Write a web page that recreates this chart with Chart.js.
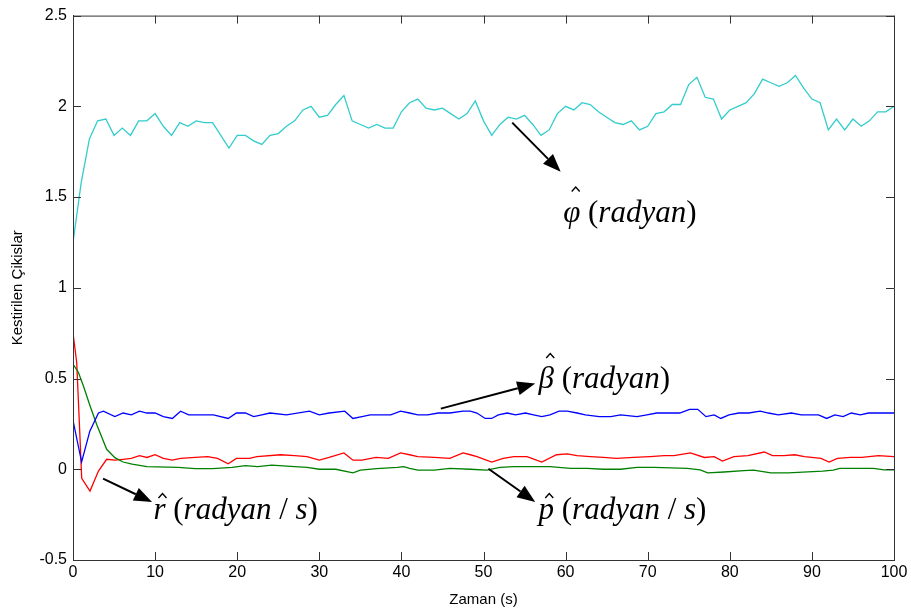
<!DOCTYPE html>
<html>
<head>
<style>
  body { margin: 0; background: #fff; }
  #wrap { width: 911px; height: 609px; }
</style>
</head>
<body>
<script src="https://cdn.jsdelivr.net/npm/chart.js"></script>
<div id="wrap"><canvas id="canvas"></canvas></div>
<script>
// axis ticks
const xTicks = [0, 10, 20, 30, 40, 50, 60, 70, 80, 90, 100];
const yTicks = [-0.5, 0, 0.5, 1, 1.5, 2, 2.5];

// phi hat (radyan) - cyan
const phiT = [0,1,2,3,4,5,6,7,8,9,10,11,12,13,14,15,16,17,18,19,20,21,22,23,24,25,26,27,28,29,30,
  31,32,33,34,35,36,37,38,39,40,41,42,43,44,45,46,47,48,49,50,51,52,53,54,55,56,57,58,59,60,
  61,62,63,64,65,66,67,68,69,70,71,72,73,74,75,76,77,78,79,80,81,82,83,84,85,86,87,88,89,90,
  91,92,93,94,95,96,97,98,99,100];
const phiV = [1.25,1.58,1.82,1.92,1.93,1.84,1.88,1.84,1.92,1.92,1.96,1.89,1.84,1.91,1.89,1.92,1.91,1.91,1.84,1.77,1.84,
  1.84,1.81,1.79,1.84,1.85,1.89,1.92,1.98,2.00,1.94,1.95,2.01,2.06,1.92,1.90,1.88,1.90,1.88,1.88,1.97,
  2.02,2.04,1.99,1.98,1.99,1.96,1.93,1.96,2.03,1.92,1.84,1.90,1.94,1.93,1.95,1.90,1.84,1.87,1.96,2.00,
  1.98,2.02,2.01,1.97,1.94,1.91,1.90,1.92,1.87,1.89,1.96,1.97,2.01,2.01,2.12,2.16,2.05,2.04,1.93,1.98,
  2.00,2.02,2.07,2.15,2.13,2.11,2.13,2.17,2.10,2.04,2.02,1.87,1.93,1.87,1.93,1.89,1.92,1.97,1.97,2.00];

// beta hat (radyan) - blue
const betaT = [0,1.05,2.05,3.1,3.7,5.1,6.1,7.1,8.1,9,10,11,12.1,13.1,14.1,15.1,17.1,18.9,19.9,21,22,23,24,26,28.8,30,31.2,
  33.1,34.1,35.2,36.2,37.5,38.7,39.9,41,42,43.2,44.5,45.9,47.5,48.4,49.2,50.2,51,51.8,52.9,53.9,55.1,56.1,57.1,58.1,
  59.2,60.2,61.4,62.4,64.1,65.5,66.7,68.7,69.9,71.1,72.7,73.9,75.1,76.1,77.1,78.1,78.9,79.9,81.1,82.3,83.7,84.7,85.9,
  87.5,88.7,90.8,91.8,92.8,93.8,94.8,95.9,96.9,98.1,100];
const betaV = [0.27,0.04,0.21,0.31,0.32,0.29,0.31,0.30,0.32,0.31,0.31,0.29,0.28,0.32,0.30,0.30,0.30,0.28,0.31,0.31,0.29,0.30,0.31,0.30,0.32,0.30,0.31,
  0.32,0.28,0.29,0.30,0.30,0.30,0.32,0.31,0.30,0.30,0.31,0.31,0.32,0.32,0.31,0.28,0.28,0.30,0.31,0.30,0.31,0.30,0.29,0.30,
  0.32,0.32,0.31,0.30,0.29,0.29,0.30,0.29,0.30,0.31,0.31,0.31,0.33,0.33,0.29,0.30,0.28,0.30,0.31,0.31,0.32,0.31,0.30,
  0.31,0.30,0.30,0.28,0.30,0.29,0.31,0.30,0.31,0.31,0.31];

// p hat (radyan/s) - green
const pT = [0,0.65,1.26,2.07,2.9,4.1,5.1,6.1,7.2,9,12.8,14.9,17,19.4,21,22.5,24.2,27,28.5,30,32,34.1,35,37,39.5,40.3,41,42,44,45.9,
  48.4,50.4,52,53.7,58.1,60.6,62.6,64.6,66.7,68.7,70.8,74.8,76.4,77.3,79.3,81.7,82.9,85,87.1,91.3,92.6,93.4,97.5,98.8,100];
const pV = [0.58,0.535,0.46,0.35,0.245,0.11,0.064,0.04,0.028,0.015,0.01,0.004,0.004,0.01,0.02,0.015,0.023,0.015,0.01,0.0,0.0,-0.02,-0.005,0.004,0.01,0.015,0.005,-0.005,-0.005,0.005,
  0.0,-0.005,0.01,0.015,0.015,0.005,0.005,0.0,0.0,0.01,0.01,0.005,-0.003,-0.02,-0.015,-0.008,-0.005,-0.02,-0.02,-0.01,-0.005,0.005,0.005,-0.003,-0.003];

// r hat (radyan/s) - red
const rT = [0,0.45,0.77,1.06,2.07,3.1,4.1,5.1,6.1,7.1,8.1,9,10,11,12.1,13.1,14.9,16.4,17.6,18.9,19.9,21.5,22.4,25.3,27,28.5,30,31.2,33,34.1,35.2,36.9,
  38.4,39.9,41,42,44,45.9,47.5,48.4,49.2,51,52.4,53.7,55.3,57.1,58.9,60.2,61.4,63,64.6,66.2,68.3,70.3,72,73.2,75.2,76.9,78.1,79.1,80.5,
  82.2,84.2,85.2,86.6,87.9,89.1,91.1,92.1,93.1,94.7,96.1,98.1,100];
const rV = [0.75,0.59,0.26,-0.05,-0.12,-0.01,0.055,0.05,0.055,0.06,0.075,0.065,0.08,0.06,0.05,0.06,0.065,0.07,0.06,0.03,0.06,0.06,0.07,0.08,0.075,0.07,0.05,0.065,
  0.09,0.05,0.05,0.065,0.06,0.09,0.08,0.07,0.065,0.06,0.09,0.08,0.07,0.04,0.06,0.07,0.07,0.04,0.08,0.085,0.075,0.07,0.065,0.06,0.065,0.07,0.075,0.075,
  0.09,0.065,0.07,0.045,0.07,0.075,0.095,0.075,0.075,0.08,0.07,0.06,0.04,0.06,0.065,0.065,0.075,0.07];

function pts(t, v) {
  return t.map((x, i) => ({x: x, y: v[i]}));
}

// MATLAB style: box round the plot and ticks pointing inwards
const boxPlugin = {
  id: 'box',
  afterDraw(chart) {
    const ctx = chart.ctx;
    const a = chart.chartArea;
    const xs = chart.scales.x, ys = chart.scales.y;
    ctx.save();
    ctx.strokeStyle = '#333';
    ctx.lineWidth = 1;
    ctx.beginPath();
    ctx.rect(a.left + 0.5, a.top + 0.5, a.right - a.left, a.bottom - a.top);
    xTicks.forEach(t => {
      const px = Math.round(xs.getPixelForValue(t)) + 0.5;
      ctx.moveTo(px, a.bottom); ctx.lineTo(px, a.bottom - 8);
      ctx.moveTo(px, a.top); ctx.lineTo(px, a.top + 8);
    });
    yTicks.forEach(t => {
      const py = Math.round(ys.getPixelForValue(t)) + 0.5;
      ctx.moveTo(a.left, py); ctx.lineTo(a.left + 8, py);
      ctx.moveTo(a.right, py); ctx.lineTo(a.right - 8, py);
    });
    ctx.stroke();
    ctx.restore();
  }
};

// arrows with the math labels
const notes = [
  {from: [53.5, 1.91], to: [59.4, 1.64], sym: 'φ', tall: true, per: false, at: [59.7, 1.365]},
  {from: [44.8, 0.334], to: [56.3, 0.472], sym: 'β', tall: true, per: false, at: [56.7, 0.448]},
  {from: [50.6, 0.003], to: [56.3, -0.18], sym: 'p', tall: false, per: true, at: [56.7, -0.274]},
  {from: [3.66, -0.052], to: [9.63, -0.18], sym: 'r', tall: false, per: true, at: [9.8, -0.274]}
];

const notePlugin = {
  id: 'notes',
  afterDraw(chart) {
    const ctx = chart.ctx;
    const xs = chart.scales.x, ys = chart.scales.y;
    ctx.save();
    ctx.fillStyle = '#000';
    ctx.strokeStyle = '#000';
    notes.forEach(n => {
      const x0 = xs.getPixelForValue(n.from[0]), y0 = ys.getPixelForValue(n.from[1]);
      const x1 = xs.getPixelForValue(n.to[0]), y1 = ys.getPixelForValue(n.to[1]);
      const ang = Math.atan2(y1 - y0, x1 - x0);
      const hl = 18, hw = 7;
      const bx = x1 - hl * Math.cos(ang), by = y1 - hl * Math.sin(ang);
      ctx.lineWidth = 2;
      ctx.beginPath();
      ctx.moveTo(x0, y0); ctx.lineTo(bx, by);
      ctx.stroke();
      ctx.beginPath();
      ctx.moveTo(x1, y1);
      ctx.lineTo(bx + hw * Math.sin(ang), by - hw * Math.cos(ang));
      ctx.lineTo(bx - hw * Math.sin(ang), by + hw * Math.cos(ang));
      ctx.closePath();
      ctx.fill();

      // label text, italic letters with upright brackets
      let x = xs.getPixelForValue(n.at[0]);
      const y = ys.getPixelForValue(n.at[1]);
      const it = 'italic 31px "Liberation Serif", "Times New Roman", serif';
      const up = '31px "Liberation Serif", "Times New Roman", serif';
      ctx.textBaseline = 'alphabetic';
      ctx.textAlign = 'left';
      ctx.font = it;
      const sw = ctx.measureText(n.sym).width;
      ctx.fillText(n.sym, x, y);
      // hat over the symbol
      const hx = x + sw / 2 + (n.tall ? 4 : 3);
      const hy = n.tall ? y - 30 : y - 21;
      ctx.lineWidth = 1.4;
      ctx.beginPath();
      ctx.moveTo(hx - 4, hy);
      ctx.lineTo(hx, hy - 4.5);
      ctx.lineTo(hx + 4, hy);
      ctx.stroke();
      x += sw;
      const parts = [[' (', up], ['radyan', it]];
      if (n.per) { parts.push([' / ', up]); parts.push(['s', it]); }
      parts.push([')', up]);
      parts.forEach(p => {
        ctx.font = p[1];
        ctx.fillText(p[0], x, y);
        x += ctx.measureText(p[0]).width;
      });
    });
    ctx.restore();
  }
};

const tickFont = {family: '"Liberation Sans", Arial, sans-serif', size: 16};
const titleFont = {family: '"Liberation Sans", Arial, sans-serif', size: 15};

new Chart(document.getElementById('canvas'), {
  type: 'line',
  data: {
    datasets: [
      {data: pts(phiT, phiV), borderColor: '#33cccc'},
      {data: pts(betaT, betaV), borderColor: '#0000ff'},
      {data: pts(pT, pV), borderColor: '#008000'},
      {data: pts(rT, rV), borderColor: '#ff0000'}
    ]
  },
  options: {
    responsive: true,
    maintainAspectRatio: false,
    animation: false,
    layout: {padding: {top: 12, right: 17, bottom: 0, left: 0}},
    elements: {
      line: {borderWidth: 1.3, tension: 0, fill: false},
      point: {radius: 0}
    },
    plugins: {
      legend: {display: false},
      tooltip: {enabled: false}
    },
    scales: {
      x: {
        type: 'linear',
        min: 0, max: 100,
        afterFit: s => { s.height = 49; },
        afterBuildTicks: s => { s.ticks = xTicks.map(v => ({value: v})); },
        ticks: {color: '#000', font: tickFont, padding: 3, maxRotation: 0},
        grid: {drawOnChartArea: false, drawTicks: false},
        border: {color: '#333'},
        title: {display: true, text: 'Zaman (s)', color: '#000', font: titleFont, padding: {top: 0, bottom: 0}}
      },
      y: {
        min: -0.5, max: 2.5,
        afterFit: s => { s.width = 73; },
        afterBuildTicks: s => { s.ticks = yTicks.map(v => ({value: v})); },
        ticks: {color: '#000', font: tickFont, padding: 6, callback: v => String(v)},
        grid: {drawOnChartArea: false, drawTicks: false},
        border: {color: '#333'},
        title: {display: true, text: 'Kestirilen Çikislar', color: '#000', font: titleFont, padding: {top: 9, bottom: 4}}
      }
    }
  },
  plugins: [boxPlugin, notePlugin]
});
</script>
</body>
</html>
